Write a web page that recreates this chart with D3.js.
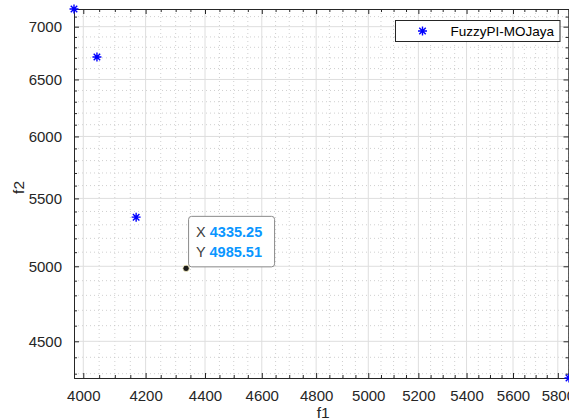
<!DOCTYPE html>
<html>
<head>
<meta charset="utf-8">
<script src="https://cdn.jsdelivr.net/npm/d3@7"></script>
<style>
  body { margin: 0; background: #fff; }
  text { font-family: "Liberation Sans", Arial, sans-serif; }
</style>
</head>
<body>
<div id="chart"></div>
<script>
// Pareto front points (f1, f2)
let f1Values = [3971, 4043, 4169, 4335.25, 5851];
let f2Values = [7176, 6708, 5357, 4985.51, 4274];
let seriesName = "FuzzyPI-MOJaya";

let xMajorTicks = [4000, 4200, 4400, 4600, 4800, 5000, 5200, 5400, 5600, 5800];
let yMajorTicks = [4500, 5000, 5500, 6000, 6500, 7000];
let xMinorTicks = d3.range(4000, 5851, 50);
let yMinorTicks = d3.range(4300, 7200, 100);

let tipIndex = 3;

let data = f1Values.map((d, i) => ({f1: d, f2: f2Values[i]}));

let margin = {top: 9, right: 0, bottom: 42, left: 74},
    width = 569 - margin.left - margin.right,
    height = 420 - margin.top - margin.bottom;

let svg = d3.select("#chart")
    .append("svg")
        .attr("width", 569)
        .attr("height", 420)
    .append("g")
        .attr("transform", `translate(${margin.left},${margin.top})`);

let x = d3.scaleLog()
    .domain(d3.extent(f1Values))
    .range([0, width]);

let y = d3.scaleLog()
    .domain(d3.extent(f2Values))
    .range([height, 0]);

// minor grid (dotted)
let minorX = xMinorTicks.filter(t => xMajorTicks.indexOf(t) < 0);
let minorY = yMinorTicks.filter(t => yMajorTicks.indexOf(t) < 0);

svg.append("g").selectAll("line")
    .data(minorX)
    .join("line")
    .attr("x1", d => x(d)).attr("x2", d => x(d))
    .attr("y1", 0).attr("y2", height)
    .attr("stroke", "#c4c4c4")
    .attr("stroke-width", 0.8)
    .attr("stroke-dasharray", "1,3");

svg.append("g").selectAll("line")
    .data(minorY)
    .join("line")
    .attr("y1", d => y(d)).attr("y2", d => y(d))
    .attr("x1", 0).attr("x2", width)
    .attr("stroke", "#c4c4c4")
    .attr("stroke-width", 0.8)
    .attr("stroke-dasharray", "1,3");

// major grid
svg.append("g").selectAll("line")
    .data(xMajorTicks)
    .join("line")
    .attr("x1", d => x(d)).attr("x2", d => x(d))
    .attr("y1", 0).attr("y2", height)
    .attr("stroke", "#dedede")
    .attr("stroke-width", 1);

svg.append("g").selectAll("line")
    .data(yMajorTicks)
    .join("line")
    .attr("y1", d => y(d)).attr("y2", d => y(d))
    .attr("x1", 0).attr("x2", width)
    .attr("stroke", "#dedede")
    .attr("stroke-width", 1);

// axes
function styleAxis(g) {
    g.selectAll("path").attr("stroke", "#262626");
    g.selectAll("line").attr("stroke", "#262626");
    g.selectAll("text")
        .attr("fill", "#262626")
        .style("font-family", '"Liberation Sans", Arial, sans-serif')
        .style("font-size", "15px");
}

svg.append("g")
    .attr("transform", `translate(0,${height})`)
    .call(d3.axisBottom(x).tickValues(xMajorTicks).tickFormat(d3.format("d"))
        .tickSizeInner(-5).tickSizeOuter(0).tickPadding(12))
    .call(styleAxis);

svg.append("g")
    .call(d3.axisBottom(x).tickValues(minorX).tickFormat("")
        .tickSizeInner(-3).tickSizeOuter(0))
    .attr("transform", `translate(0,${height})`)
    .call(styleAxis);

svg.append("g")
    .call(d3.axisTop(x).tickValues(xMajorTicks).tickFormat("")
        .tickSizeInner(-5).tickSizeOuter(0))
    .call(styleAxis);

svg.append("g")
    .call(d3.axisTop(x).tickValues(minorX).tickFormat("")
        .tickSizeInner(-3).tickSizeOuter(0))
    .call(styleAxis);

svg.append("g")
    .call(d3.axisLeft(y).tickValues(yMajorTicks).tickFormat(d3.format("d"))
        .tickSizeInner(-5).tickSizeOuter(0).tickPadding(12))
    .call(styleAxis);

svg.append("g")
    .call(d3.axisLeft(y).tickValues(minorY).tickFormat("")
        .tickSizeInner(-3).tickSizeOuter(0))
    .call(styleAxis);

svg.append("g")
    .attr("transform", `translate(${width - 0.5},0)`)
    .call(d3.axisRight(y).tickValues(yMajorTicks).tickFormat("")
        .tickSizeInner(-5).tickSizeOuter(0))
    .call(styleAxis);

svg.append("g")
    .attr("transform", `translate(${width - 0.5},0)`)
    .call(d3.axisRight(y).tickValues(minorY).tickFormat("")
        .tickSizeInner(-3).tickSizeOuter(0))
    .call(styleAxis);

// axis labels
svg.append("text")
    .attr("x", x(4800) + 7)
    .attr("y", height + 40)
    .attr("text-anchor", "middle")
    .attr("fill", "#262626")
    .style("font-size", "15.5px")
    .text("f1");

svg.append("text")
    .attr("transform", `translate(${-50},${y(5500) - 11}) rotate(-90)`)
    .attr("text-anchor", "middle")
    .attr("fill", "#262626")
    .style("font-size", "15.5px")
    .text("f2");

// asterisk marker
function asterisk(g, r) {
    let d = r * 0.72;
    g.append("path")
        .attr("d", `M${-r},0H${r}M0,${-r}V${r}M${-d},${-d}L${d},${d}M${-d},${d}L${d},${-d}`)
        .attr("stroke", "#0000ff")
        .attr("stroke-width", 1.4)
        .attr("fill", "none");
}

svg.append("g").selectAll("g")
    .data(data.filter((d, i) => i !== tipIndex))
    .join("g")
    .attr("transform", d => `translate(${x(d.f1)},${y(d.f2)})`)
    .each(function() { asterisk(d3.select(this), 4.5); });

// data tip
let tip = data[tipIndex];
let tx = x(tip.f1), ty = y(tip.f2);
let tipG = svg.append("g");
tipG.append("rect")
    .attr("x", tx + 2.5)
    .attr("y", ty - 52)
    .attr("width", 86)
    .attr("height", 50.5)
    .attr("rx", 3)
    .attr("fill", "#fff")
    .attr("stroke", "#8a8a8a")
    .attr("stroke-width", 1);
let lines = [["X", tip.f1.toFixed(2)], ["Y", tip.f2.toFixed(2)]];
lines.forEach((l, i) => {
    let t = tipG.append("text")
        .attr("x", tx + 10)
        .attr("y", ty - 31 + i * 19.5)
        .style("font-size", "14.5px");
    t.append("tspan").attr("fill", "#404040").text(l[0] + " ");
    t.append("tspan").attr("fill", "#0a96ff").attr("font-weight", "bold").text(l[1]);
});
tipG.append("circle")
    .attr("cx", tx).attr("cy", ty)
    .attr("r", 3.2)
    .attr("fill", "#1a1a1a")
    .attr("stroke", "#fff7c8")
    .attr("stroke-width", 0.8);

// legend
let legend = svg.append("g")
    .attr("transform", "translate(321.5,11.5)");
legend.append("rect")
    .attr("x", 0).attr("y", 0)
    .attr("width", 164.5).attr("height", 21)
    .attr("fill", "#fff")
    .attr("stroke", "#262626")
    .attr("stroke-width", 1);
asterisk(legend.append("g").attr("transform", "translate(27,10.5)"), 4.5);
legend.append("text")
    .attr("x", 55)
    .attr("y", 15.5)
    .attr("fill", "#000")
    .style("font-size", "13.5px")
    .text(seriesName);
</script>
</body>
</html>
